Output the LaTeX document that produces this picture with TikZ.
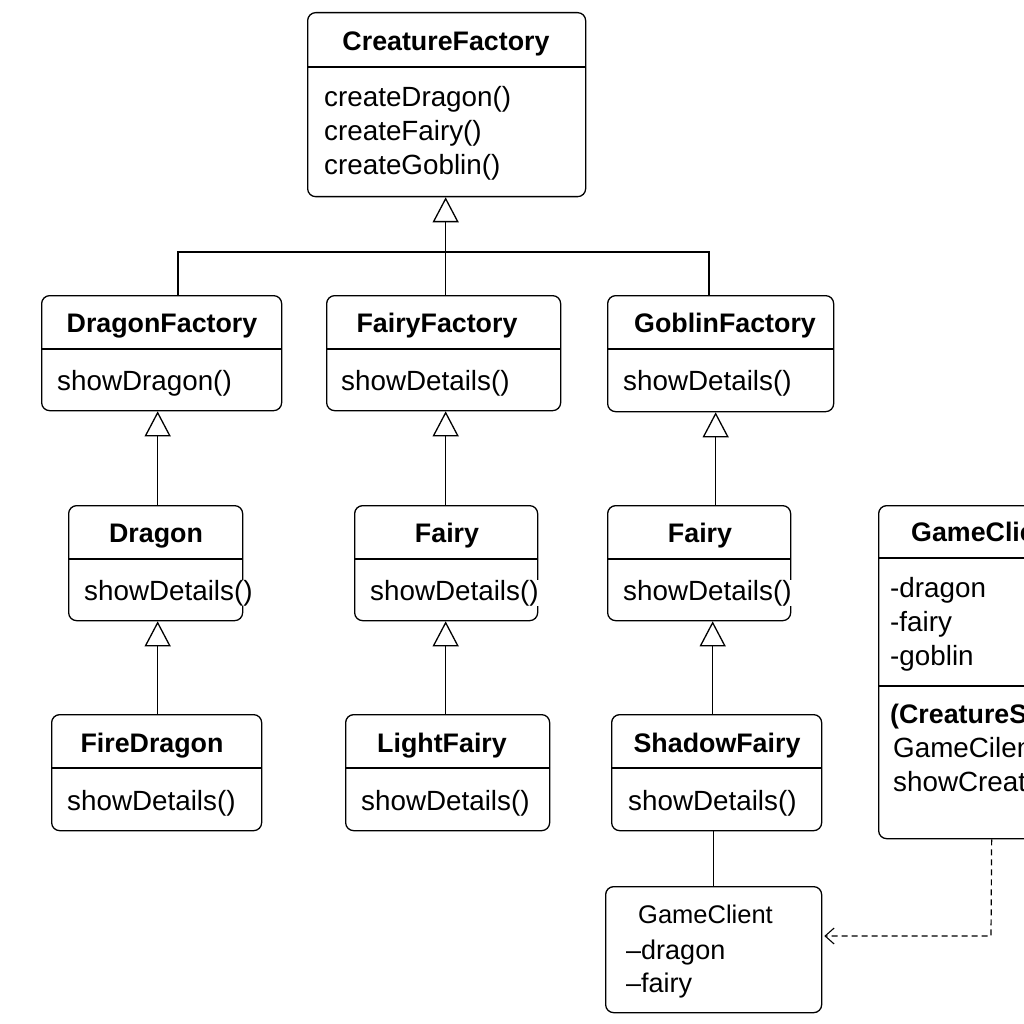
\documentclass[tikz,border=0pt]{standalone}
\usepackage{fontspec}
\setmainfont{Liberation Sans}
\usetikzlibrary{arrows.meta}
\tikzset{
  box/.style={draw, line width=1.3pt, rounded corners=8pt, anchor=north west, inner sep=0pt, fill=none},
  divline/.style={line width=1.3pt},
  ttl/.style={anchor=base, inner sep=0pt, font=\fontsize{26.8}{32}\selectfont\bfseries},
  bodytxt/.style={anchor=base west, inner sep=0pt, align=left, font=\fontsize{27.8}{34}\selectfont},
  inh/.style={line width=1.3pt, -{Triangle[open, length=25pt, width=26pt, line width=1.3pt]}},
  plain/.style={line width=1.3pt},
  dep/.style={line width=1.2pt, dash pattern=on 6pt off 4pt, -{Straight Barb[length=9pt, width=16pt, line width=1.1pt]}}
}
\begin{document}
\begin{tikzpicture}[x=1pt, y=-1pt]
\useasboundingbox (0,0) rectangle (1024,1024);
\fill[white] (0,0) rectangle (1024,1024);
\clip (0,0) rectangle (1024,1024);

% CreatureFactory
\node[box, minimum width=278pt, minimum height=184pt] (cf) at (307,12) {};
\draw[divline] ([yshift=-55pt]cf.north west) -- ([yshift=-55pt]cf.north east);
\node[ttl] (cft) at (446,51) {CreatureFactory};
\node[bodytxt, anchor=north west] (cfb) at (324,86) {createDragon()\\createFairy()\\createGoblin()};

% DragonFactory
\node[box, minimum width=240pt, minimum height=115pt] (df) at (41,295) {};
\draw[divline] ([yshift=-54pt]df.north west) -- ([yshift=-54pt]df.north east);
\node[ttl] (dft) at (162,332) {DragonFactory};
\node[bodytxt] (dfb) at (57,390) {showDragon()};

% FairyFactory
\node[box, minimum width=234pt, minimum height=115pt] (ff) at (326,295) {};
\draw[divline] ([yshift=-54pt]ff.north west) -- ([yshift=-54pt]ff.north east);
\node[ttl] (fft) at (437,332) {FairyFactory};
\node[bodytxt] (ffb) at (341,390) {showDetails()};

% GoblinFactory
\node[box, minimum width=226pt, minimum height=116pt] (gf) at (607,295) {};
\draw[divline] ([yshift=-54pt]gf.north west) -- ([yshift=-54pt]gf.north east);
\node[ttl] (gft) at (725,332) {GoblinFactory};
\node[bodytxt] (gfb) at (623,390) {showDetails()};

% Dragon
\node[box, minimum width=174pt, minimum height=115pt] (dr) at (68,505) {};
\draw[divline] ([yshift=-54pt]dr.north west) -- ([yshift=-54pt]dr.north east);
\node[ttl] (drt) at (156,542) {Dragon};
\node[bodytxt, fill=white] (drb) at (84,600) {showDetails()};

% Fairy (middle)
\node[box, minimum width=183pt, minimum height=115pt] (fm) at (354,505) {};
\draw[divline] ([yshift=-54pt]fm.north west) -- ([yshift=-54pt]fm.north east);
\node[ttl] (fmt) at (447,542) {Fairy};
\node[bodytxt, fill=white] (fmb) at (370,600) {showDetails()};

% Fairy (right)
\node[box, minimum width=183pt, minimum height=115pt] (fr) at (607,505) {};
\draw[divline] ([yshift=-54pt]fr.north west) -- ([yshift=-54pt]fr.north east);
\node[ttl] (frt) at (700,542) {Fairy};
\node[bodytxt, fill=white] (frb) at (623,600) {showDetails()};

% FireDragon
\node[box, minimum width=210pt, minimum height=116pt] (fd) at (51,714) {};
\draw[divline] ([yshift=-54pt]fd.north west) -- ([yshift=-54pt]fd.north east);
\node[ttl] (fdt) at (152,752) {FireDragon};
\node[bodytxt] (fdb) at (67,810) {showDetails()};

% LightFairy
\node[box, minimum width=204pt, minimum height=116pt] (lf) at (345,714) {};
\draw[divline] ([yshift=-54pt]lf.north west) -- ([yshift=-54pt]lf.north east);
\node[ttl] (lft) at (442,752) {LightFairy};
\node[bodytxt] (lfb) at (361,810) {showDetails()};

% ShadowFairy
\node[box, minimum width=210pt, minimum height=116pt] (sf) at (611,714) {};
\draw[divline] ([yshift=-54pt]sf.north west) -- ([yshift=-54pt]sf.north east);
\node[ttl] (sft) at (717,752) {ShadowFairy};
\node[bodytxt] (sfb) at (628,810) {showDetails()};

% GameClient (bottom)
\node[box, minimum width=216pt, minimum height=126pt] (gc) at (605,886) {};
\node[bodytxt, font=\fontsize{25.5}{33}\selectfont] (gct) at (638,923) {GameClient};
\node[bodytxt, anchor=north west, font=\fontsize{27}{33}\selectfont] (gcb) at (626,940) {–dragon\\–fairy};

% GameClient (right, cut off by the picture's edge)
\node[box, minimum width=226pt, minimum height=333pt] (rc) at (878,505) {};
\draw[divline] ([yshift=-53pt]rc.north west) -- ([yshift=-53pt]rc.north east);
\draw[divline] ([yshift=-181pt]rc.north west) -- ([yshift=-181pt]rc.north east);
\node[ttl, anchor=base west] (rct) at (911,541) {GameClient};
\node[bodytxt, anchor=north west] (rca) at (890,577) {-dragon\\-fairy\\-goblin};
\node[bodytxt, anchor=base west, font=\fontsize{26.8}{34}\selectfont\bfseries] (rcm) at (890,723) {(CreatureS};
\node[bodytxt, anchor=north west] (rcn) at (893,737) {GameCilen\\showCreat};

% Inheritance connectors
\coordinate (j1) at (178,252);
\coordinate (j3) at (709,252);
\draw[inh] ([xshift=2pt]ff.north) -- ([xshift=-1pt]cf.south);
\draw[plain] (j1 |- df.north) -- (j1) -- (j3) -- (j3 |- gf.north);
\draw[inh] ([xshift=2pt]dr.north) -- ([xshift=-4pt]df.south);
\draw[inh] ([xshift=1pt]fd.north) -- ([xshift=2pt]dr.south);
\draw[inh] ([xshift=-0.5pt]fm.north) -- ([xshift=2pt]ff.south);
\draw[inh] ([xshift=-2pt]lf.north) -- ([xshift=-0.5pt]fm.south);
\draw[inh] ([xshift=16.5pt]fr.north) -- ([xshift=-5pt]gf.south);
\draw[inh] ([xshift=-4pt]sf.north) -- ([xshift=13.5pt]fr.south);
\draw[plain] ([xshift=-3pt]sf.south) -- (gc.north);

% Dependency
\coordinate (bend) at (991,936);
\draw[dep] (rc.south) -- (bend) -- ([xshift=2pt]bend -| gc.east);
\end{tikzpicture}
\end{document}
